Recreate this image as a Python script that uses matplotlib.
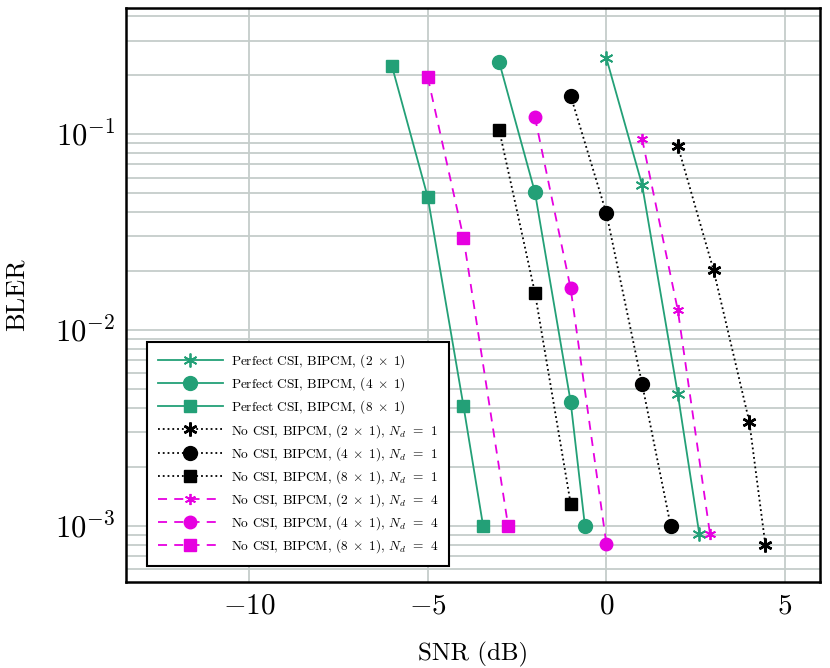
import matplotlib
matplotlib.use("Agg")
import matplotlib.pyplot as plt
import numpy as np

plt.rcParams['font.family'] = ['cmr10', 'DejaVu Serif']
plt.rcParams['mathtext.fontset'] = 'cm'
plt.rcParams['axes.formatter.use_mathtext'] = True

GREEN = "#23a077"
MAGENTA = "#e600e0"
BLACK = "black"

# Perfect CSI, BIPCM
snr_pc_2 = [0, 1, 2, 2.6]
bler_pc_2 = [0.244, 0.055, 0.0047, 9.1e-4]
snr_pc_4 = [-3, -2, -1, -0.6]
bler_pc_4 = [0.233, 0.0505, 0.0043, 1.0e-3]
snr_pc_8 = [-6, -5, -4, -3.45]
bler_pc_8 = [0.222, 0.0477, 0.0041, 1.0e-3]

# No CSI, Nd = 1
snr_n1_2 = [2, 3, 4, 4.45]
bler_n1_2 = [0.087, 0.0202, 0.0034, 8.0e-4]
snr_n1_4 = [-1, 0, 1, 1.8]
bler_n1_4 = [0.157, 0.0394, 0.0053, 1.0e-3]
snr_n1_8 = [-3, -2, -1]
bler_n1_8 = [0.105, 0.0155, 0.0013]

# No CSI, Nd = 4
snr_n4_2 = [1, 2, 2.9]
bler_n4_2 = [0.0945, 0.0126, 9.1e-4]
snr_n4_4 = [-2, -1, 0]
bler_n4_4 = [0.122, 0.0163, 8.1e-4]
snr_n4_8 = [-5, -4, -2.75]
bler_n4_8 = [0.195, 0.0296, 1.0e-3]

fig = plt.figure(figsize=(8.3, 6.68), dpi=100)
ax = fig.add_axes([0.152, 0.129, 0.836, 0.859])

star = (6, 2, 0)
lw = 1.3
dash = (0, (5, 4))

ax.plot(snr_pc_2, bler_pc_2, color=GREEN, lw=lw, marker=star, ms=10, mew=1.3,
        label=r"Perfect CSI, BIPCM, $(2\;\times\;1)$")
ax.plot(snr_pc_4, bler_pc_4, color=GREEN, lw=lw, marker='o', ms=10,
        label=r"Perfect CSI, BIPCM, $(4\;\times\;1)$")
ax.plot(snr_pc_8, bler_pc_8, color=GREEN, lw=lw, marker='s', ms=8.5,
        label=r"Perfect CSI, BIPCM, $(8\;\times\;1)$")

ax.plot(snr_n1_2, bler_n1_2, color=BLACK, lw=lw, ls=':', marker=star, ms=10, mew=1.8,
        label=r"No CSI, BIPCM, $(2\;\times\;1)$, $N_d\;\,=\;\,1$")
ax.plot(snr_n1_4, bler_n1_4, color=BLACK, lw=lw, ls=':', marker='o', ms=10,
        label=r"No CSI, BIPCM, $(4\;\times\;1)$, $N_d\;\,=\;\,1$")
ax.plot(snr_n1_8, bler_n1_8, color=BLACK, lw=lw, ls=':', marker='s', ms=8.5,
        label=r"No CSI, BIPCM, $(8\;\times\;1)$, $N_d\;\,=\;\,1$")

ax.plot(snr_n4_2, bler_n4_2, color=MAGENTA, lw=lw, ls=dash, marker=star, ms=8, mew=1.3,
        label=r"No CSI, BIPCM, $(2\;\times\;1)$, $N_d\;\,=\;\,4$")
ax.plot(snr_n4_4, bler_n4_4, color=MAGENTA, lw=lw, ls=dash, marker='o', ms=9,
        label=r"No CSI, BIPCM, $(4\;\times\;1)$, $N_d\;\,=\;\,4$")
ax.plot(snr_n4_8, bler_n4_8, color=MAGENTA, lw=lw, ls=dash, marker='s', ms=8.5,
        label=r"No CSI, BIPCM, $(8\;\times\;1)$, $N_d\;\,=\;\,4$")

ax.set_yscale('log')
ax.set_xlim(-13.44, 5.98)
ax.set_ylim(5.18e-4, 0.44)
ax.set_xticks([-10, -5, 0, 5])

gridc = "#c5cdca"
ax.grid(True, which='major', color=gridc, lw=1.3)
ax.grid(True, which='minor', axis='y', color=gridc, lw=1.3)
ax.set_axisbelow(True)
ax.tick_params(which='both', direction='in', color=gridc, width=1.3)
ax.tick_params(axis='x', labelsize=21)
ax.tick_params(axis='y', labelsize=22)
ax.tick_params(which='major', length=0, pad=8)
ax.tick_params(which='minor', length=0)
for s in ax.spines.values():
    s.set_linewidth(1.8)

ax.set_xlabel("SNR (dB)", fontsize=18, labelpad=16)
ax.set_ylabel("BLER", fontsize=19, labelpad=19)

leg = ax.legend(loc='lower left', bbox_to_anchor=(0.03, 0.028), borderaxespad=0,
                fontsize=9.6, fancybox=False, framealpha=1, edgecolor='black',
                handlelength=4.9, labelspacing=0.4, borderpad=0.8, handletextpad=0.6)
leg.get_frame().set_linewidth(1.5)

fig.savefig("out.png", dpi=100)
